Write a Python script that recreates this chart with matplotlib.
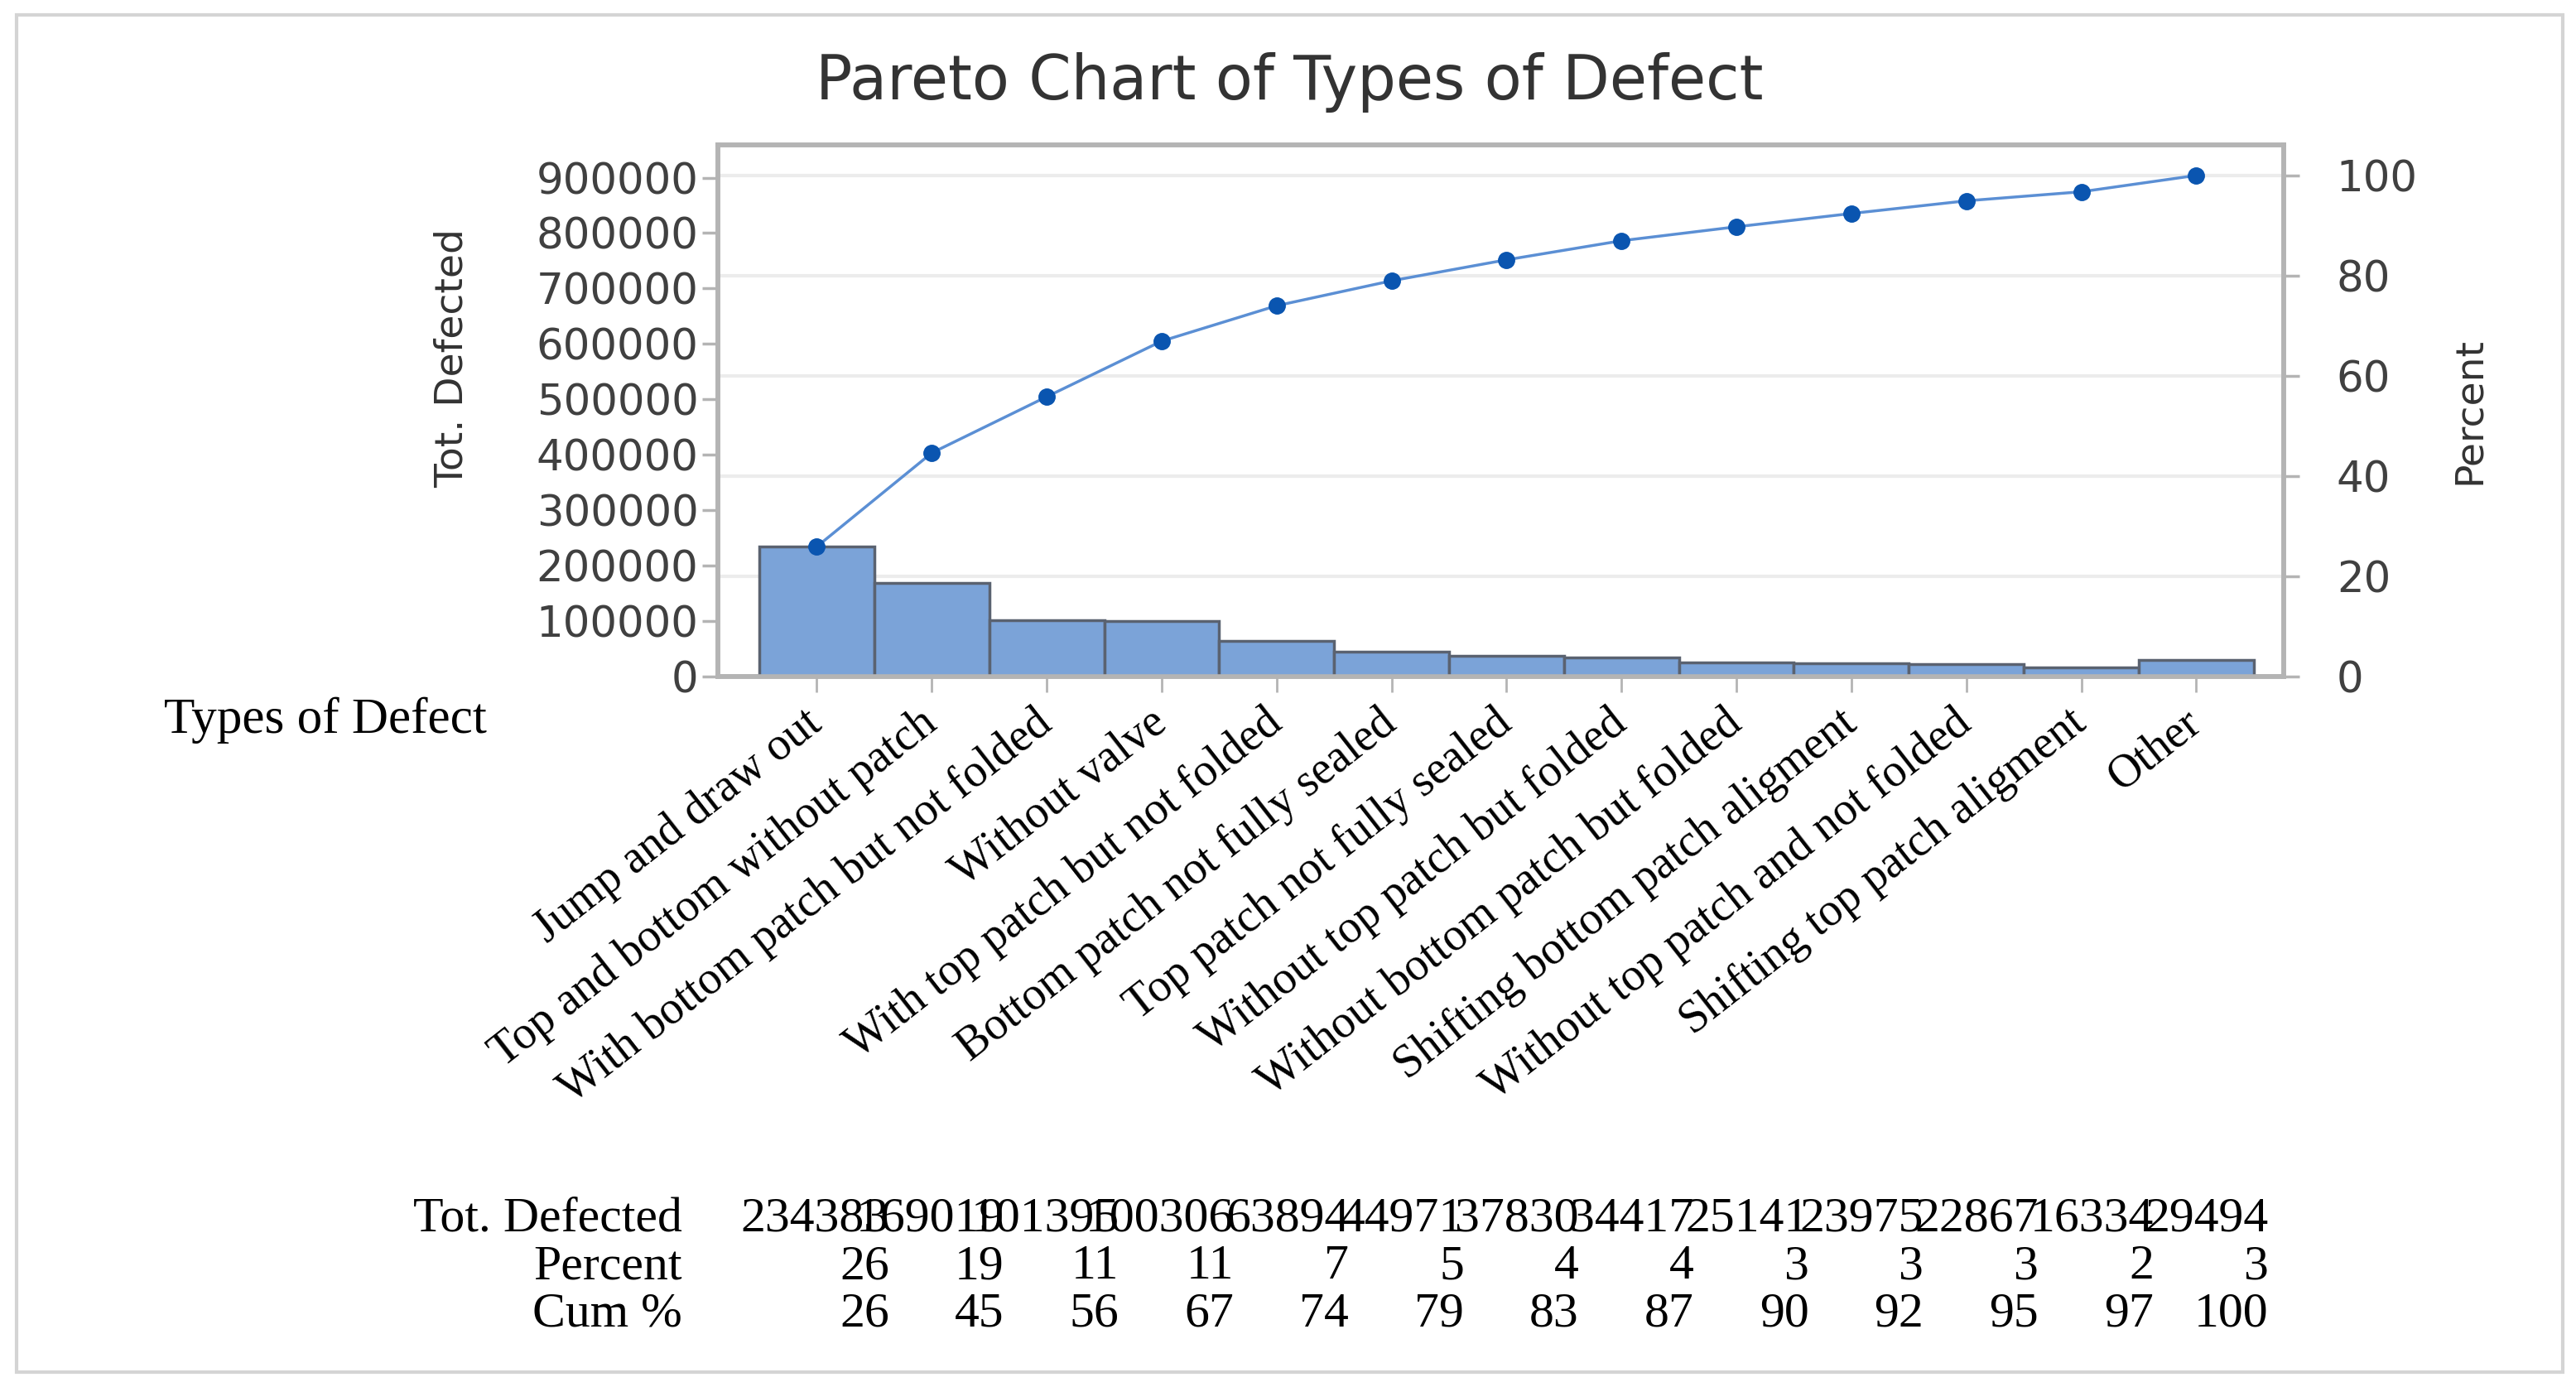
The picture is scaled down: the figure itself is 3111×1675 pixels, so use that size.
import numpy as np
import matplotlib.pyplot as plt
from matplotlib.patches import Rectangle
import matplotlib.transforms as mtransforms

defects = ['Jump and draw out', 'Top and bottom without patch',
           'With bottom patch but not folded', 'Without valve',
           'With top patch but not folded', 'Bottom patch not fully sealed',
           'Top patch not fully sealed', 'Without top patch but folded',
           'Without bottom patch but folded', 'Shifting bottom patch aligment',
           'Without top patch and not folded', 'Shifting top patch aligment',
           'Other']
counts = [234383, 169019, 101395, 100306, 63894, 44971, 37830,
          34417, 25141, 23975, 22867, 16334, 29494]
pct_labels = [26, 19, 11, 11, 7, 5, 4, 4, 3, 3, 3, 2, 3]
cum_labels = [26, 45, 56, 67, 74, 79, 83, 87, 90, 92, 95, 97, 100]
left_ticks = [0, 100000, 200000, 300000, 400000, 500000,
              600000, 700000, 800000, 900000]
right_ticks = [0, 20, 40, 60, 80, 100]

total = sum(counts)
cum_pct = np.cumsum(counts) / total * 100
x = np.arange(len(counts))

sans = 'DejaVu Sans'
serif = 'Liberation Serif'
spine_col = '#b4b4b4'
bar_col = '#7ba3d8'
edge_col = '#5a6270'

fig = plt.figure(figsize=(31.11, 16.75), dpi=100)
ax = fig.add_axes([0.2787, 0.5122, 0.6078, 0.3833])
ax2 = ax.twinx()

ax.bar(x, counts, width=1, color=bar_col, edgecolor=edge_col, linewidth=2.5, zorder=3)
ax.set_xlim(-0.86, 12.76)
ytop = 959000
ax.set_ylim(0, ytop)
ax.set_yticks(left_ticks)
ax.set_yticklabels([str(v) for v in left_ticks], fontfamily=sans, fontsize=37, color='#404040')

ax2.set_ylim(0, ytop / total * 100)
ax2.set_yticks(right_ticks)
ax2.set_yticklabels([str(v) for v in right_ticks], fontfamily=sans, fontsize=37, color='#404040')
ax2.plot(x, cum_pct, color='#5b8fd4', linewidth=2.5, marker='o', markersize=14,
         markerfacecolor='#0a55b0', markeredgecolor='#0a55b0', zorder=5)
for v in right_ticks[1:]:
    ax.axhline(v / 100 * total, color='#ececec', linewidth=3, zorder=0)

ax.set_xticks(x)
ax.set_xticklabels(defects, rotation=38, ha='right', va='center', rotation_mode='anchor',
                   fontfamily=serif, fontsize=40, color='black')
# nudge the slanted labels a little to the right
shift = mtransforms.ScaledTranslation(0.2, 0.05, fig.dpi_scale_trans)
for lbl in ax.get_xticklabels():
    lbl.set_transform(lbl.get_transform() + shift)
ax.tick_params(axis='x', length=14, width=2, color=spine_col, pad=22)
ax.tick_params(axis='y', length=14, width=2.5, color=spine_col, pad=3)
ax2.tick_params(axis='y', length=14, width=2.5, color=spine_col, pad=32)

for a in (ax, ax2):
    for s in a.spines.values():
        s.set_color(spine_col)
        s.set_linewidth(4)
ax.set_zorder(ax2.get_zorder() - 1)
ax.patch.set_visible(True)
ax2.patch.set_visible(False)

fig.text(0.5006, 0.9408, 'Pareto Chart of Types of Defect', fontfamily=sans,
         fontsize=53, color='#333333', ha='center', va='center')
fig.text(0.1754, 0.7417, 'Tot. Defected', fontfamily=sans, fontsize=34,
         color='#333333', rotation=90, ha='center', va='center')
fig.text(0.9585, 0.7038, 'Percent', fontfamily=sans, fontsize=34,
         color='#333333', rotation=90, ha='center', va='center')
fig.text(0.0638, 0.4716, 'Types of Defect', fontfamily=serif, fontsize=44,
         color='black', ha='left', va='baseline')

# table under the chart
trans = mtransforms.blended_transform_factory(ax.transData, fig.transFigure)
rows = [('Tot. Defected', [str(v) for v in counts], 0.1126),
        ('Percent', [str(v) for v in pct_labels], 0.0782),
        ('Cum %', [str(v) for v in cum_labels], 0.0438)]
for name, vals, yy in rows:
    ax.text(-1.17, yy, name, transform=trans, ha='right', va='baseline',
            fontfamily=serif, fontsize=43, color='black')
    for i, v in enumerate(vals):
        ax.text(i + 0.63, yy, v, transform=trans, ha='right', va='baseline',
                fontfamily=serif, fontsize=43, color='black')

fig.patches.append(Rectangle((20 / 3111, 18 / 1675), 3075 / 3111, 1639 / 1675,
                             transform=fig.transFigure, fill=False,
                             edgecolor='#d4d4d4', linewidth=3))

fig.savefig('out.png', dpi=100)
